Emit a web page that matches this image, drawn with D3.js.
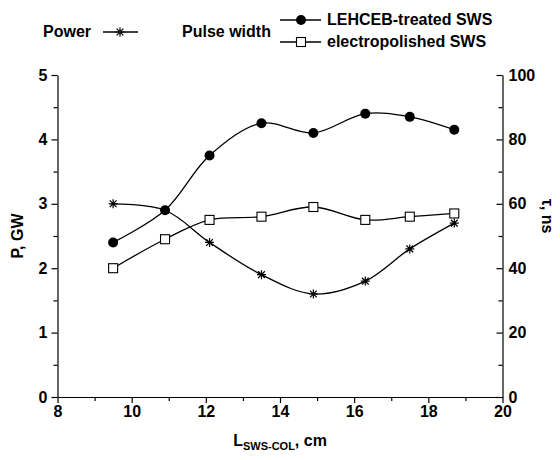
<!DOCTYPE html>
<html>
<head>
<meta charset="utf-8">
<script src="https://cdn.jsdelivr.net/npm/d3@7"></script>
<style>
	body { margin: 0; background: #fff; }
	svg text { font-family: "Liberation Sans", Arial, sans-serif; font-weight: bold; fill: #000; }
	.axis path, .axis line { stroke: #000; stroke-width: 1.2; }
	.axis text { font-size: 16px; }
</style>
</head>
<body>
<svg id="chart" width="560" height="460"></svg>
<script>
var lengths = [9.5, 10.9, 12.1, 13.5, 14.9, 16.3, 17.5, 18.7];
var power = [3.0, 2.9, 2.4, 1.9, 1.6, 1.8, 2.3, 2.7];
var widthTreated = [48, 58, 75, 85, 82, 88, 87, 83];
var widthPolished = [40, 49, 55, 56, 59, 55, 56, 57];

var xTicks = [8, 10, 12, 14, 16, 18, 20],
		pTicks = [0, 1, 2, 3, 4, 5],
		tauTicks = [0, 20, 40, 60, 80, 100];

var svg = d3.select("#chart");
var margin = {top: 75, right: 57.5, bottom: 63, left: 57.5};
var width = 560 - margin.left - margin.right,
		height = 460 - margin.top - margin.bottom;

var x = d3.scaleLinear().domain([8, 20]).range([margin.left, margin.left + width]),
		yP = d3.scaleLinear().domain([0, 5]).range([margin.top + height, margin.top]),
		yT = d3.scaleLinear().domain([0, 100]).range([margin.top + height, margin.top]);

function halfTicks(scale, step) {
	var out = [];
	var d = scale.domain();
	for(var i = 1; d[0] + i * step < d[1]; i += 2) {
		out.push(d[0] + i * step);
	}
	return out;
}

// minor ticks
svg.append("g")
		.attr("class", "axis")
		.attr("transform", "translate(0," + yP(0) + ")")
		.call(d3.axisBottom(x).tickValues(halfTicks(x, 1)).tickSize(4).tickFormat(""))
		.select(".domain").remove();
svg.append("g")
		.attr("class", "axis")
		.attr("transform", "translate(" + x(8) + ",0)")
		.call(d3.axisLeft(yP).tickValues(halfTicks(yP, 0.5)).tickSize(4).tickFormat(""))
		.select(".domain").remove();
svg.append("g")
		.attr("class", "axis")
		.attr("transform", "translate(" + x(20) + ",0)")
		.call(d3.axisRight(yT).tickValues(halfTicks(yT, 10)).tickSize(-4).tickFormat(""))
		.select(".domain").remove();

// major axes
svg.append("g")
		.attr("class", "axis axis--x")
		.attr("transform", "translate(0," + yP(0) + ")")
		.call(d3.axisBottom(x).tickValues(xTicks).tickSize(6).tickSizeOuter(0).tickPadding(3).tickFormat(d3.format("d")));
svg.append("g")
		.attr("class", "axis axis--p")
		.attr("transform", "translate(" + x(8) + ",0)")
		.call(d3.axisLeft(yP).tickValues(pTicks).tickSize(6).tickSizeOuter(0).tickPadding(4).tickFormat(d3.format("d")));
svg.append("g")
		.attr("class", "axis axis--tau")
		.attr("transform", "translate(" + x(20) + ",0)")
		.call(d3.axisRight(yT).tickValues(tauTicks).tickSize(-6).tickSizeOuter(0).tickPadding(6).tickFormat(d3.format("d")));

// axis titles
svg.append("text")
		.attr("transform", "translate(23," + (margin.top + height / 2) + ") rotate(-90)")
		.attr("text-anchor", "middle")
		.style("font-size", "16px")
		.text("P, GW");
svg.append("text")
		.attr("transform", "translate(542,216) rotate(90)")
		.attr("text-anchor", "middle")
		.style("font-size", "16px")
		.text("τ, ns");
var xt = svg.append("text")
		.attr("x", x(14))
		.attr("y", 446)
		.attr("text-anchor", "middle")
		.style("font-size", "16px");
xt.append("tspan").text("L");
xt.append("tspan").attr("dy", 4).style("font-size", "11px").text("SWS-COL");
xt.append("tspan").attr("dy", -4).text(", cm");

// series
function series(values, y) {
	return lengths.map(function(l, i) { return {x: l, y: values[i], sy: y}; });
}
var line = d3.line()
		.curve(d3.curveCatmullRom.alpha(0.5))
		.x(function(d) { return x(d.x); })
		.y(function(d) { return d.sy(d.y); });

var sets = [
	{data: series(power, yP), marker: "star"},
	{data: series(widthPolished, yT), marker: "square"},
	{data: series(widthTreated, yT), marker: "circle"}
];

sets.forEach(function(s) {
	svg.append("path")
			.datum(s.data)
			.attr("fill", "none")
			.attr("stroke", "#000")
			.attr("stroke-width", 1.3)
			.attr("d", line);
});

function drawMarker(g, type, cx, cy) {
	if(type == "circle") {
		g.append("circle").attr("cx", cx).attr("cy", cy).attr("r", 5).attr("fill", "#000");
	} else if(type == "square") {
		g.append("rect").attr("x", cx - 4.5).attr("y", cy - 4.5).attr("width", 9).attr("height", 9)
			.attr("fill", "#fff").attr("stroke", "#000").attr("stroke-width", 1.1);
	} else {
		var r = 4.5, d = r * 0.75;
		g.append("path")
			.attr("d", "M" + (cx - r) + "," + cy + "H" + (cx + r) +
				"M" + cx + "," + (cy - r) + "V" + (cy + r) +
				"M" + (cx - d) + "," + (cy - d) + "L" + (cx + d) + "," + (cy + d) +
				"M" + (cx - d) + "," + (cy + d) + "L" + (cx + d) + "," + (cy - d))
			.attr("stroke", "#000").attr("stroke-width", 1.2).attr("fill", "none");
	}
}

sets.forEach(function(s) {
	var g = svg.append("g");
	s.data.forEach(function(d) {
		drawMarker(g, s.marker, x(d.x), d.sy(d.y));
	});
});

// legend
var legend = svg.append("g").attr("class", "legend");
legend.append("text").attr("x", 43).attr("y", 37).style("font-size", "16px").text("Power");
legend.append("line").attr("x1", 103).attr("x2", 138).attr("y1", 32).attr("y2", 32)
		.attr("stroke", "#000").attr("stroke-width", 1.3);
drawMarker(legend, "star", 120, 32);

legend.append("text").attr("x", 182).attr("y", 37).style("font-size", "16px").text("Pulse width");
legend.append("line").attr("x1", 280).attr("x2", 321).attr("y1", 20).attr("y2", 20)
		.attr("stroke", "#000").attr("stroke-width", 1.3);
drawMarker(legend, "circle", 301, 20);
legend.append("text").attr("x", 327).attr("y", 25).style("font-size", "16px").text("LEHCEB-treated SWS");
legend.append("line").attr("x1", 280).attr("x2", 321).attr("y1", 42).attr("y2", 42)
		.attr("stroke", "#000").attr("stroke-width", 1.3);
drawMarker(legend, "square", 301, 42);
legend.append("text").attr("x", 327).attr("y", 47).style("font-size", "16px").text("electropolished SWS");
</script>
</body>
</html>
